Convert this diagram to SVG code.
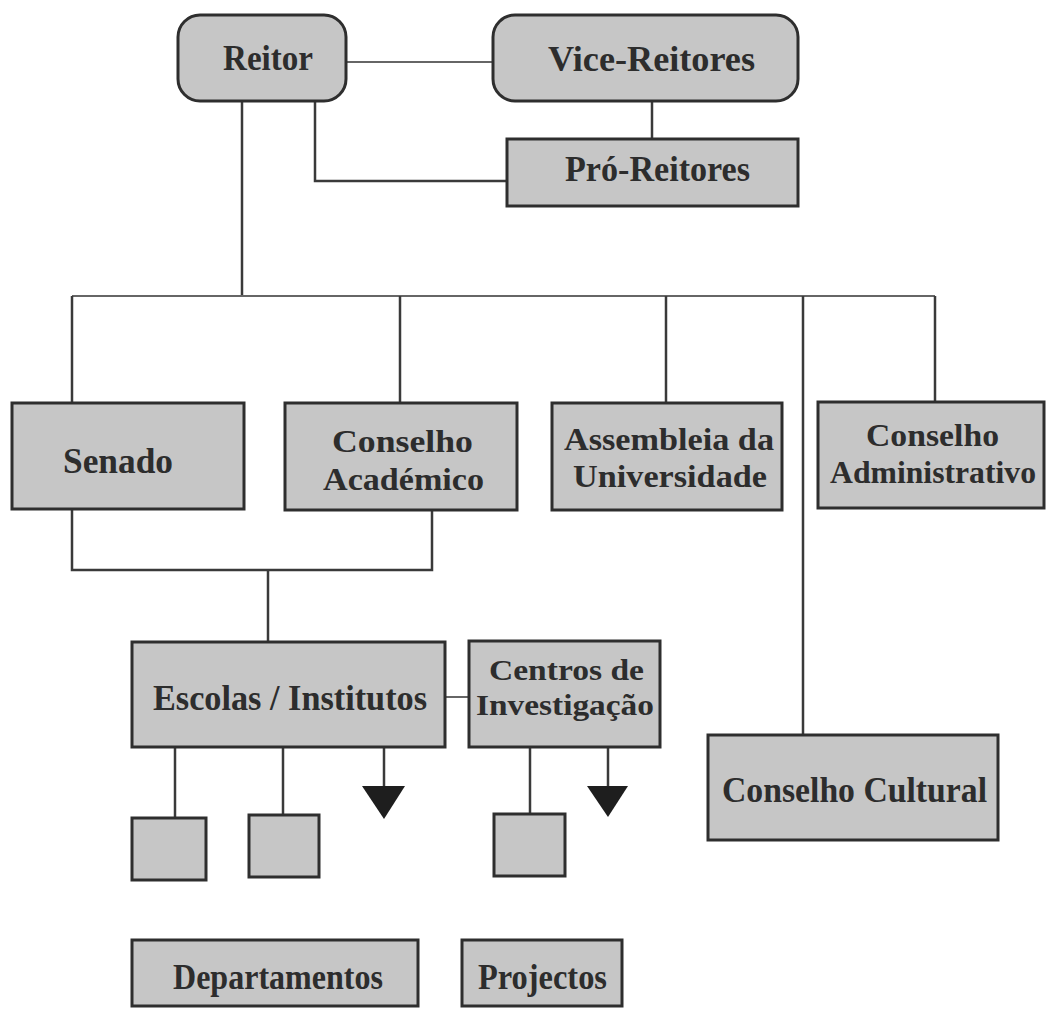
<svg xmlns="http://www.w3.org/2000/svg" width="1049" height="1014" viewBox="0 0 1049 1014">
<style>
.box{fill:#c6c6c6;stroke:#2e2e2e;stroke-width:3}
.t{font-family:"Liberation Serif","Times New Roman",serif;font-weight:bold;font-size:35px;fill:#2d2d2d;text-anchor:start}
.s{font-size:31px}
.xs{font-size:29px}
.c{fill:none;stroke:#3a3a3a;stroke-width:2.5}
.thin{fill:none;stroke:#666;stroke-width:2}
.arr{fill:#1e1e1e}
</style>
<rect width="1049" height="1014" fill="#ffffff"/>
<g id="connectors">
<path class="thin" d="M346 62H493"/>
<path class="c" d="M652 101V139"/>
<path class="c" d="M315 101V181H507"/>
<path class="c" d="M242 101V296"/>
<path class="thin" d="M72 296H935"/>
<path class="c" d="M72 296V403"/>
<path class="c" d="M400 296V403"/>
<path class="c" d="M666 296V403"/>
<path class="c" d="M803 296V735"/>
<path class="c" d="M935 296V402"/>
<path class="c" d="M72 509V570H432V510"/>
<path class="c" d="M268 570V642"/>
<path class="thin" d="M445 697H469"/>
<path class="c" d="M175 747V818"/>
<path class="c" d="M283 747V815"/>
<path class="c" d="M384 747V786"/>
<polygon class="arr" points="362,786 405,786 384,819"/>
<path class="c" d="M530 747V814"/>
<path class="c" d="M608 747V786"/>
<polygon class="arr" points="587,786 628,786 608,817"/>
</g>
<g id="reitor"><rect class="box" x="178" y="15" width="168" height="86" rx="22"/><text class="t" x="223" y="70" textLength="90" lengthAdjust="spacingAndGlyphs">Reitor</text></g>
<g id="vice-reitores"><rect class="box" x="493" y="15" width="305" height="86" rx="22"/><text class="t" x="548" y="71" textLength="207" lengthAdjust="spacingAndGlyphs">Vice-Reitores</text></g>
<g id="pro-reitores"><rect class="box" x="507" y="139" width="291" height="67"/><text class="t" x="565" y="181" textLength="185" lengthAdjust="spacingAndGlyphs">Pró-Reitores</text></g>
<g id="senado"><rect class="box" x="12" y="403" width="232" height="106"/><text class="t" x="63" y="473" textLength="110" lengthAdjust="spacingAndGlyphs">Senado</text></g>
<g id="conselho-academico"><rect class="box" x="285" y="403" width="232" height="107"/><text class="t s" x="332" y="452" textLength="141" lengthAdjust="spacingAndGlyphs">Conselho</text><text class="t s" x="323" y="490" textLength="161" lengthAdjust="spacingAndGlyphs">Académico</text></g>
<g id="assembleia"><rect class="box" x="552" y="403" width="230" height="107"/><text class="t s" x="564" y="450" textLength="210" lengthAdjust="spacingAndGlyphs">Assembleia da</text><text class="t s" x="573" y="487" textLength="194" lengthAdjust="spacingAndGlyphs">Universidade</text></g>
<g id="conselho-administrativo"><rect class="box" x="818" y="402" width="226" height="106"/><text class="t s" x="866" y="446" textLength="133" lengthAdjust="spacingAndGlyphs">Conselho</text><text class="t s" x="830" y="483" textLength="206" lengthAdjust="spacingAndGlyphs">Administrativo</text></g>
<g id="escolas"><rect class="box" x="132" y="642" width="313" height="105"/><text class="t" x="153" y="710" textLength="274" lengthAdjust="spacingAndGlyphs">Escolas / Institutos</text></g>
<g id="centros"><rect class="box" x="469" y="641" width="191" height="106"/><text class="t xs" x="489" y="680" textLength="155" lengthAdjust="spacingAndGlyphs">Centros de</text><text class="t xs" x="476" y="715" textLength="178" lengthAdjust="spacingAndGlyphs">Investigação</text></g>
<g id="box1"><rect class="box" x="132" y="818" width="74" height="62"/></g>
<g id="box2"><rect class="box" x="249" y="815" width="70" height="62"/></g>
<g id="box3"><rect class="box" x="494" y="814" width="71" height="62"/></g>
<g id="conselho-cultural"><rect class="box" x="708" y="735" width="290" height="105"/><text class="t" x="722" y="802" textLength="265" lengthAdjust="spacingAndGlyphs">Conselho Cultural</text></g>
<g id="departamentos"><rect class="box" x="132" y="940" width="286" height="66"/><text class="t" x="173" y="989" textLength="210" lengthAdjust="spacingAndGlyphs">Departamentos</text></g>
<g id="projectos"><rect class="box" x="462" y="940" width="160" height="66"/><text class="t" x="478" y="989" textLength="129" lengthAdjust="spacingAndGlyphs">Projectos</text></g>
</svg>
